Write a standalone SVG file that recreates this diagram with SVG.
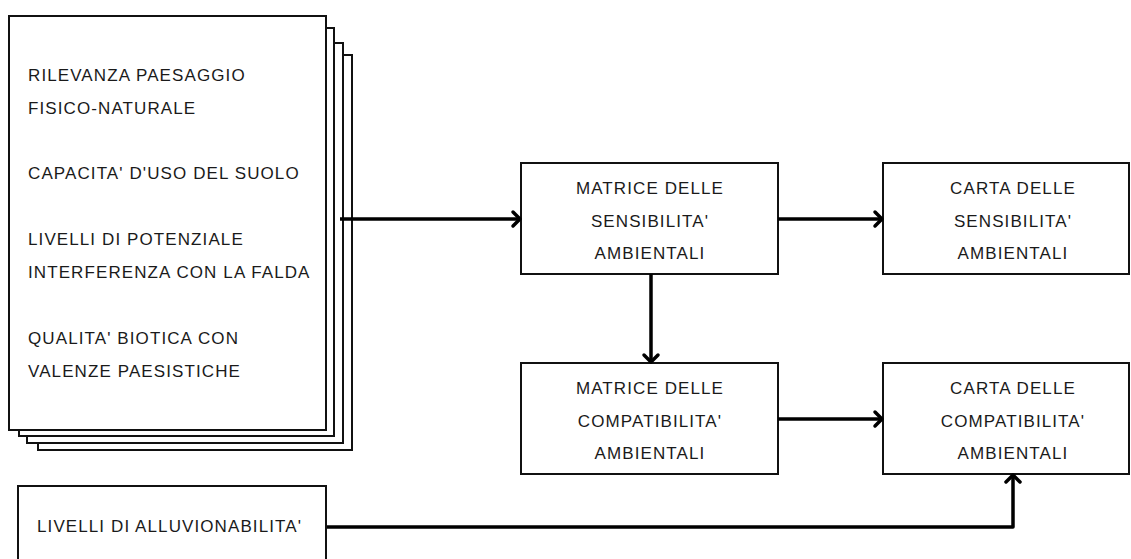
<svg xmlns="http://www.w3.org/2000/svg" width="1131" height="559" viewBox="0 0 1131 559">
<style>
.box{fill:#fff;stroke:#111;stroke-width:2}
.t{font-family:"Liberation Sans",Arial,sans-serif;font-size:17px;fill:#1a1a1a;letter-spacing:1.1px}
.c{text-anchor:middle}
.con{fill:none;stroke:#000;stroke-width:3.5;stroke-linejoin:round}
</style>
<defs>
<marker id="chev" viewBox="0 0 20 20" markerWidth="20" markerHeight="20" refX="11" refY="10" orient="auto" markerUnits="userSpaceOnUse">
<path d="M4,3 L11,10 L4,17" fill="none" stroke="#000" stroke-width="3.5" stroke-linecap="round" stroke-linejoin="round"/>
</marker>
</defs>
<rect width="1131" height="559" fill="#fff"/>
<g id="stack">
<rect class="box" x="38" y="55" width="314" height="395"/>
<rect class="box" x="27" y="43" width="316" height="400"/>
<rect class="box" x="19" y="28" width="315" height="408"/>
<rect class="box" x="9" y="16" width="317" height="414"/>
<text class="t" x="28" y="81">RILEVANZA PAESAGGIO</text>
<text class="t" x="28" y="114">FISICO-NATURALE</text>
<text class="t" x="28" y="179">CAPACITA' D'USO DEL SUOLO</text>
<text class="t" x="28" y="245">LIVELLI DI POTENZIALE</text>
<text class="t" x="28" y="278">INTERFERENZA CON LA FALDA</text>
<text class="t" x="28" y="344">QUALITA' BIOTICA CON</text>
<text class="t" x="28" y="377">VALENZE PAESISTICHE</text>
</g>
<g id="matrice-sens">
<rect class="box" x="521" y="163" width="257" height="111"/>
<text class="t c" x="650" y="194">MATRICE DELLE</text>
<text class="t c" x="650" y="227">SENSIBILITA'</text>
<text class="t c" x="650" y="259">AMBIENTALI</text>
</g>
<g id="carta-sens">
<rect class="box" x="883" y="163" width="246" height="111"/>
<text class="t c" x="1013" y="194">CARTA DELLE</text>
<text class="t c" x="1013" y="227">SENSIBILITA'</text>
<text class="t c" x="1013" y="259">AMBIENTALI</text>
</g>
<g id="matrice-comp">
<rect class="box" x="521" y="363" width="257" height="111"/>
<text class="t c" x="650" y="394">MATRICE DELLE</text>
<text class="t c" x="650" y="427">COMPATIBILITA'</text>
<text class="t c" x="650" y="459">AMBIENTALI</text>
</g>
<g id="carta-comp">
<rect class="box" x="883" y="363" width="246" height="111"/>
<text class="t c" x="1013" y="394">CARTA DELLE</text>
<text class="t c" x="1013" y="427">COMPATIBILITA'</text>
<text class="t c" x="1013" y="459">AMBIENTALI</text>
</g>
<g id="alluvion">
<rect class="box" x="18" y="486" width="308" height="100"/>
<text class="t" x="37" y="532">LIVELLI DI ALLUVIONABILITA'</text>
</g>
<g id="connectors">
<path class="con" d="M340,219 H520" marker-end="url(#chev)"/>
<path class="con" d="M778,219 H882" marker-end="url(#chev)"/>
<path class="con" d="M651,274 V362" marker-end="url(#chev)"/>
<path class="con" d="M778,419 H882" marker-end="url(#chev)"/>
<path class="con" d="M327,527 H1013 V475" marker-end="url(#chev)"/>
</g>
</svg>
